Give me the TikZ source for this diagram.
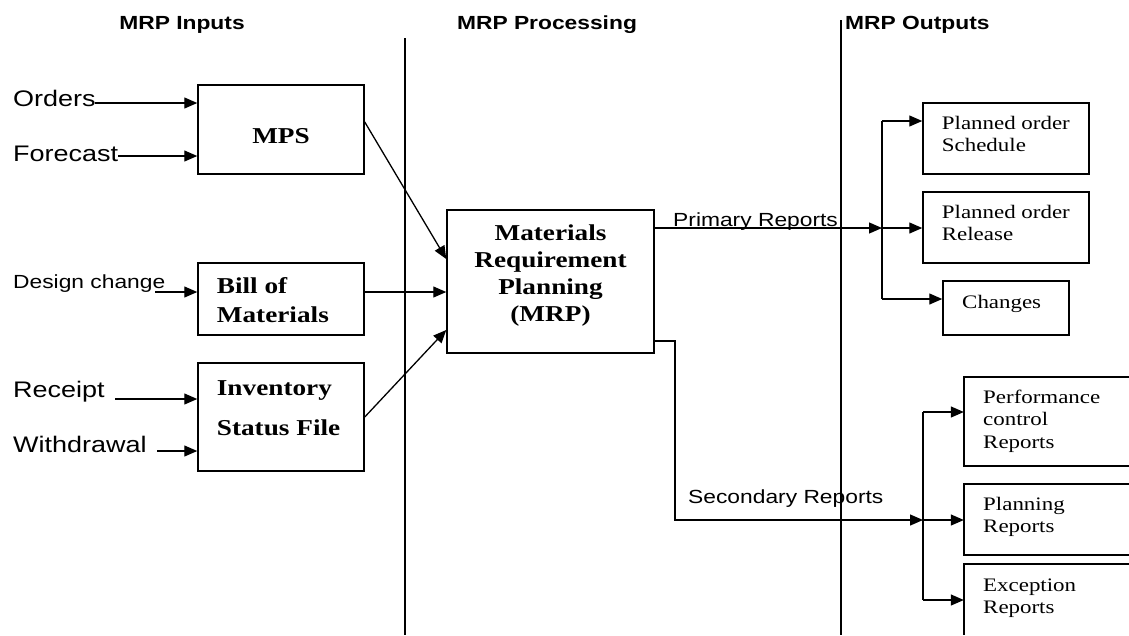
\documentclass[tikz,border=0pt]{standalone}
\usepackage{fontspec}
\setmainfont{Liberation Serif}[FakeStretch=1.2]
\setsansfont{Liberation Sans}[FakeStretch=1.2]
\usetikzlibrary{arrows.meta}
\newcommand{\fsz}[2]{\fontsize{#1}{#2}\selectfont}
\newcommand{\lcol}[1]{\begin{tabular}[t]{@{}l@{}}#1\end{tabular}}
\newcommand{\ccol}[1]{\begin{tabular}[t]{@{}c@{}}#1\end{tabular}}
\begin{document}
\begin{tikzpicture}[x=1pt,y=-1pt,
  box/.style={draw, line width=1.5pt, inner sep=0pt},
  openbox/.style={inner sep=0pt},
  arr/.style={line width=1.3pt, -{Triangle[length=13pt,width=11pt]}},
  ln/.style={line width=1.3pt},
  bln/.style={line width=1.5pt},
  hdr/.style={font=\sffamily\bfseries\fsz{19}{23}, inner sep=0pt, anchor=base},
  lt/.style={font=\sffamily\fsz{22.5}{27}, inner sep=0pt, anchor=base west},
  st/.style={font=\sffamily\fsz{19}{23}, inner sep=0pt, anchor=base west},
  bt/.style={font=\rmfamily\bfseries\fsz{22.7}{27.3}, inner sep=0pt},
  rt/.style={font=\rmfamily\fsz{19.1}{22.6}, inner sep=0pt, anchor=base west}]
\useasboundingbox (0,0) rectangle (1129,635);
\fill[white] (0,0) rectangle (1129,635);

% headers
\node[hdr] (h1) at (182,29) {MRP Inputs};
\node[hdr] (h2) at (547,29) {MRP Processing};
\node[hdr, anchor=base west] (h3) at (845,29) {MRP Outputs};

% separators
\coordinate (l1t) at (405,38); \coordinate (l1b) at (405,635);
\coordinate (l2t) at (841,20); \coordinate (l2b) at (841,635);
\draw[ln] (l1t) -- (l1b);
\draw[ln] (l2t) -- (l2b);

% input boxes
\node[box, minimum width=166pt, minimum height=89pt] (mps) at (281,129.5) {};
\node[box, minimum width=166pt, minimum height=72pt] (bom) at (281,299) {};
\node[box, minimum width=166pt, minimum height=108pt] (inv) at (281,417) {};
\node[bt, anchor=base] (mpst) at (281,143) {MPS};
\node[bt, anchor=base west, font=\rmfamily\bfseries\fsz{22.7}{29}] (bomt) at (216.7,293) {\lcol{Bill of\\Materials}};
\node[bt, anchor=base west, font=\rmfamily\bfseries\fsz{22.7}{40}] (invt) at (216.7,395) {\lcol{Inventory\\Status File}};

% MRP box
\node[box, minimum width=207pt, minimum height=143pt] (mrp) at (550.5,281.5) {};
\node[bt, anchor=base] (mrpt) at (550.5,240) {\ccol{Materials\\Requirement\\Planning\\(MRP)}};

% inputs
\node[lt] (orders) at (13,106) {Orders};
\node[lt] (forecast) at (13,161) {Forecast};
\node[st] (design) at (13,288) {Design change};
\node[lt] (receipt) at (13,397) {Receipt};
\node[lt] (withdrawal) at (13,452) {Withdrawal};

\coordinate (oS) at (95,103);
\coordinate (fS) at (118,156);
\coordinate (dS) at (155,292);
\coordinate (rS) at (115,399);
\coordinate (wS) at (157,451);
\draw[arr] (oS) -- (oS -| mps.west);
\draw[arr] (fS) -- (fS -| mps.west);
\draw[arr] (dS) -- (dS -| bom.west);
\draw[arr] (rS) -- (rS -| inv.west);
\draw[arr] (wS) -- (wS -| inv.west);

% into MRP
\coordinate (mpsout) at ([yshift=7.5pt]mps.east);
\coordinate (bomout) at ([yshift=7pt]bom.east);
\draw[arr] (mpsout) -- ([yshift=22.5pt]mrp.west);
\draw[arr] (bomout) -- (bomout -| mrp.west);
\draw[arr] (inv.east) -- ([yshift=-48.5pt]mrp.west);

% output boxes (primary)
\node[box, minimum width=166pt, minimum height=71pt] (pos) at (1006,138.5) {};
\node[box, minimum width=166pt, minimum height=71pt] (por) at (1006,227.5) {};
\node[box, minimum width=126pt, minimum height=54pt] (chg) at (1006,308) {};
\node[rt] (post) at (941.7,129) {\lcol{Planned order\\Schedule}};
\node[rt] (port) at (941.7,218) {\lcol{Planned order\\Release}};
\node[rt] (chgt) at (962,308) {Changes};

% output boxes (secondary), cut by the right edge
\node[openbox, minimum width=165pt, minimum height=89pt] (pcr) at (1046.5,421.5) {};
\node[openbox, minimum width=165pt, minimum height=71pt] (plr) at (1046.5,519.5) {};
\node[openbox, minimum width=165pt, minimum height=71pt] (exr) at (1046.5,599.5) {};
\draw[bln] (pcr.north east) -- (pcr.north west) -- (pcr.south west) -- (pcr.south east);
\draw[bln] (plr.north east) -- (plr.north west) -- (plr.south west) -- (plr.south east);
\draw[bln] (exr.north east) -- (exr.north west) -- (exr.south west);
\node[rt] (pcrt) at (983,403) {\lcol{Performance\\control\\Reports}};
\node[rt] (plrt) at (983,510) {\lcol{Planning\\Reports}};
\node[rt] (exrt) at (983,591) {\lcol{Exception\\Reports}};

% primary reports
\coordinate (pout) at ([yshift=53.5pt]mrp.east);
\coordinate (pb) at (882,228);
\coordinate (pbt) at (882,121);
\coordinate (pbb) at (882,299);
\draw[arr] (pout) -- (pb);
\node[st] (prim) at (673,226) {Primary Reports};
\draw[ln] (pbt) -- (pbb);
\draw[arr] (pbt) -- (pbt -| pos.west);
\draw[arr] (pb) -- (pb -| por.west);
\draw[arr] (pbb) -- (pbb -| chg.west);

% secondary reports
\coordinate (sout) at ([yshift=-59.5pt]mrp.east);
\coordinate (sc) at (675,520);
\coordinate (sb) at (923,520);
\coordinate (sbt) at (923,412);
\coordinate (sbb) at (923,600);
\draw[arr] (sout) -| (sc) -- (sb);
\node[st] (sec) at (688,503) {Secondary Reports};
\draw[ln] (sbt) -- (sbb);
\draw[arr] (sbt) -- (sbt -| pcr.west);
\draw[arr] (sb) -- (sb -| plr.west);
\draw[arr] (sbb) -- (sbb -| exr.west);
\end{tikzpicture}
\end{document}
